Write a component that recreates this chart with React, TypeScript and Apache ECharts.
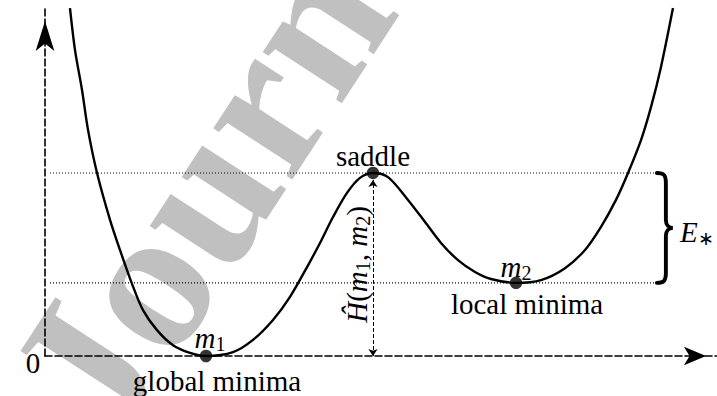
import React, { useEffect, useRef } from "react";
import * as echarts from "echarts";

// Energy landscape curve (x: state, y: energy)
const curveX = [0.446, 0.536, 0.661, 0.768, 0.929, 1.161, 1.339, 1.554, 1.75, 2.0, 2.286, 2.589, 2.875, 3.357, 3.714, 4.071, 4.375, 4.679, 4.911, 5.143, 5.393, 5.625, 5.857, 6.125, 6.482, 6.786, 7.071, 7.375, 7.679, 7.964, 8.411, 8.857, 9.286, 9.643, 9.929, 10.196, 10.411, 10.643, 10.821, 11.0, 11.214];
const curveY = [9.94, 8.74, 7.6, 6.46, 5.23, 3.89, 3.03, 2.06, 1.31, 0.74, 0.31, 0.09, 0, 0.11, 0.46, 1.03, 1.69, 2.54, 3.23, 3.97, 4.66, 5.09, 5.23, 5.11, 4.46, 3.83, 3.23, 2.74, 2.4, 2.2, 2.09, 2.17, 2.51, 3.03, 3.69, 4.46, 5.23, 6.17, 7.11, 8.26, 9.94];

// Critical points: global minimum m1, saddle, local minimum m2
const pointNames = ["m1", "saddle", "m2"];
const pointX = [2.875, 5.857, 8.411];
const pointY = [0, 5.23, 2.09];

// Dotted energy levels (saddle level and local minimum level)
const levelY = [5.23, 2.09];
const levelXStart = 0.09;
const levelXEnd = 10.98;

// Barrier arrow H(m1, m2) goes from 0 up to just below the saddle
const barrierX = 5.857;
const barrierFrom = 0;
const barrierTo = 5.03;

const xMax = 12;
const yMax = 10;

const FAM = "'Liberation Serif', 'Times New Roman', serif";
const FS = 29;

export default function App() {
  const ref = useRef<HTMLDivElement>(null);

  useEffect(() => {
    if (!ref.current) return;
    const chart = echarts.init(ref.current, undefined, { renderer: "svg" });

    const dashed = { color: "#000", width: 1.6, type: [7, 3] as any };

    chart.setOption({
      animation: false,
      grid: { left: 45, top: 6, width: 672, height: 350 },
      xAxis: {
        type: "value",
        min: 0,
        max: xMax,
        axisLine: {
          show: true,
          lineStyle: dashed,
          symbol: ["none", "arrow"],
          symbolSize: [14, 22],
          symbolOffset: [0, -11],
        },
        axisTick: { show: false },
        axisLabel: { show: false },
        splitLine: { show: false },
      },
      yAxis: {
        type: "value",
        min: 0,
        max: yMax,
        axisLine: {
          show: true,
          lineStyle: dashed,
          symbol: ["none", "arrow"],
          symbolSize: [14, 30],
          symbolOffset: [0, -15],
        },
        axisTick: { show: false },
        axisLabel: { show: false },
        splitLine: { show: false },
      },
      series: [
        {
          type: "line",
          data: curveX.map((x, i) => [x, curveY[i]]),
          smooth: 0.3,
          showSymbol: false,
          clip: false,
          lineStyle: { color: "#000", width: 2.4 },
          z: 4,
          silent: true,
        },
        ...levelY.map((y) => ({
          type: "line",
          data: [
            [levelXStart, y],
            [levelXEnd, y],
          ],
          showSymbol: false,
          lineStyle: { color: "#000", width: 1.1, type: [1, 2] },
          z: 3,
          silent: true,
        })),
        {
          type: "line",
          data: [[barrierX, barrierFrom]],
          showSymbol: false,
          lineStyle: { width: 0 },
          silent: true,
          markLine: {
            silent: true,
            symbol: ["arrow", "arrow"],
            symbolSize: [7, 7],
            label: { show: false },
            lineStyle: { color: "#000", width: 1, type: [4, 2] },
            data: [[{ coord: [barrierX, barrierFrom] }, { coord: [barrierX, barrierTo] }]],
          },
        },
        {
          type: "scatter",
          data: pointX.map((x, i) => ({ name: pointNames[i], value: [x, pointY[i]] })),
          symbolSize: 12.5,
          itemStyle: { color: "#000" },
          z: 6,
          silent: true,
        },
        {
          type: "custom",
          data: [[levelXEnd, levelY[0], levelY[1]]],
          encode: { x: 0, y: [1, 2] },
          silent: true,
          z: 5,
          renderItem: (params: any, api: any) => {
            const top = api.coord([api.value(0), api.value(1)]);
            const bot = api.coord([api.value(0), api.value(2)]);
            const xl = top[0] - 3;
            const xs = top[0] + 6;
            const xt = top[0] + 13;
            const yT = top[1];
            const yB = bot[1];
            const yM = (yT + yB) / 2;
            const d = `M${xl} ${yT} C${xs - 2} ${yT} ${xs} ${yT + 2} ${xs} ${yT + 10} L${xs} ${yM - 8} C${xs} ${yM - 3} ${xs + 3} ${yM} ${xt} ${yM} C${xs + 3} ${yM} ${xs} ${yM + 3} ${xs} ${yM + 8} L${xs} ${yB - 10} C${xs} ${yB - 2} ${xs - 2} ${yB} ${xl} ${yB}`;
            return {
              type: "path",
              shape: { pathData: d },
              style: { stroke: "#000", fill: "none", lineWidth: 3.9, lineCap: "round" },
            };
          },
        },
      ],
    });

    const px = (p: number[]) => chart.convertToPixel({ seriesIndex: 0 }, p) as number[];

    const rich: any = {
      i: { font: `italic ${FS}px ${FAM}`, lineHeight: 32, fill: "#000" },
      r: { font: `${FS}px ${FAM}`, lineHeight: 32, fill: "#000" },
      s: { font: `20px ${FAM}`, lineHeight: 15, verticalAlign: "bottom", fill: "#000" },
      a: { font: `19px ${FAM}`, lineHeight: 17, verticalAlign: "bottom", fill: "#000" },
      w: { font: `bold 205px ${FAM}`, lineHeight: 205, fill: "#c0c0c0" },
    };

    const label = (p: number[], dx: number, dy: number, text: string, extra: any = {}) => {
      const [x, y] = px(p);
      return {
        type: "text",
        x: x + dx,
        y: y + dy,
        z: extra.z ?? 100,
        silent: true,
        rotation: extra.rotation || 0,
        style: {
          text,
          font: `${FS}px ${FAM}`,
          fill: "#000",
          align: extra.align || "center",
          verticalAlign: "middle",
          rich,
        },
      };
    };

    const m1 = [pointX[0], pointY[0]];
    const sd = [pointX[1], pointY[1]];
    const m2 = [pointX[2], pointY[2]];

    chart.setOption({
      graphic: [
        label([0, 0], 12, 58, "{w|Journal Pre-proof}", { align: "left", rotation: (57 * Math.PI) / 180, z: 0 }),
        label([0, 0], -12, 7, "{r|0}"),
        label(sd, 0, -17, "{r|saddle}"),
        label(m1, 4, -18, "{i|m}{s|1}"),
        label(m1, 11, 25, "{r|global minima}"),
        label(m2, 0, -16, "{i|m}{s|2}"),
        label(m2, 11, 21, "{r|local minima}"),
        label([levelXEnd, (levelY[0] + levelY[1]) / 2], 20, 4, "{i|E}{a|∗}", { align: "left" }),
        label([barrierX, (barrierFrom + levelY[0]) / 2], -16, 0, "{i|Ĥ}{r|(}{i|m}{s|1}{r|, }{i|m}{s|2}{r|)}", {
          rotation: Math.PI / 2,
        }),
      ],
    });

    return () => chart.dispose();
  }, []);

  return (
    <div
      ref={ref}
      style={{ position: "fixed", left: 0, top: 0, width: 717, height: 396, background: "#fff" }}
    />
  );
}
